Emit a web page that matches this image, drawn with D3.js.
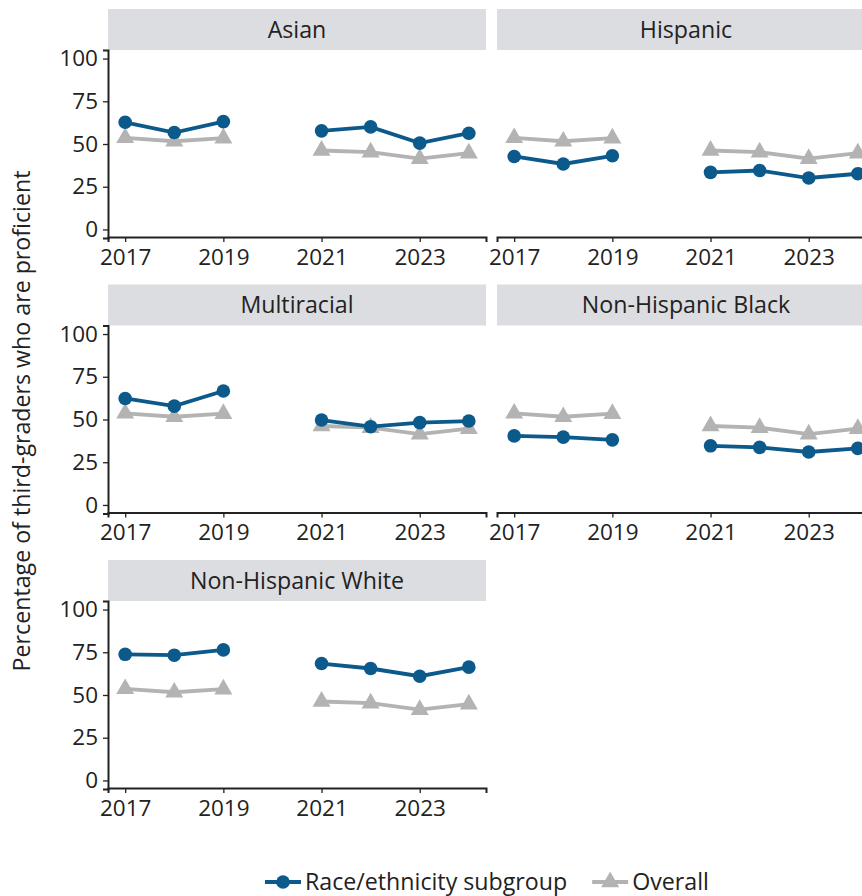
<!DOCTYPE html>
<html>
<head>
<meta charset="utf-8">
<script src="https://cdn.jsdelivr.net/npm/d3@7"></script>
<style>
  html, body { margin: 0; padding: 0; background: #fff; }
  svg { display: block; font-family: "Open Sans", "Noto Sans", sans-serif; }
</style>
</head>
<body>
<svg id="chart" width="862" height="896"></svg>
<script>
// School years (no test in 2020, so lines break there)
const years = [2017, 2018, 2019, 2020, 2021, 2022, 2023, 2024];

// Percentage of third-graders who are proficient
const overall       = [53.6, 51.6, 53.4, null, 46.2, 45.2, 41.4, 44.6];
const asian         = [62.7, 56.7, 63.1, null, 57.7, 60.0, 50.5, 56.3];
const hispanic      = [42.7, 38.3, 43.1, null, 33.4, 34.5, 30.1, 32.6];
const multiracial   = [62.3, 57.8, 66.7, null, 49.7, 45.8, 48.2, 49.1];
const nhBlack       = [40.4, 39.7, 38.1, null, 34.6, 33.7, 31.0, 33.1];
const nhWhite       = [73.8, 73.3, 76.4, null, 68.4, 65.5, 61.0, 66.3];

const groupNames  = ["Asian", "Hispanic", "Multiracial", "Non-Hispanic Black", "Non-Hispanic White"];
const groupValues = [asian, hispanic, multiracial, nhBlack, nhWhite];

const xTicks = [2017, 2019, 2021, 2023];
const yTicks = [0, 25, 50, 75, 100];

const legendLabels = ["Race/ethnicity subgroup", "Overall"];

const BLUE = "#0b5a8b";
const GREY = "#b3b3b3";
const INK = "#222222";
const STRIP = "#dcdde0";
const FONT = 23.2;
const TICK_FONT = 22.5;

const svg = d3.select("#chart");

// facet geometry
const colX = [108, 497];
const rowTop = [9, 284.5, 560];
const panelW = 378;
const stripH = 41;
const plotH = 188;

const x = d3.scaleLinear().domain([2016.65, 2024.35]).range([0, panelW]);
const y = d3.scaleLinear().domain([-5, 105]).range([plotH, 0]);

const line = d3.line()
  .defined(d => d.v != null)
  .x(d => x(d.year))
  .y(d => y(d.v));

const triangle = d3.symbol().type(d3.symbolTriangle).size(140);
const LW = 3.8;
const R = 6.8;

function pts(values) {
  return years.map((yr, i) => ({ year: yr, v: values[i] }));
}

function styleAxis(a) {
  a.attr("font-family", null).attr("font-size", TICK_FONT);
  a.select(".domain").attr("stroke", INK).attr("stroke-width", 2);
  a.selectAll(".tick line").attr("stroke", INK).attr("stroke-width", 1.3);
  a.selectAll(".tick text").attr("fill", INK);
}

groupNames.forEach((name, i) => {
  const col = i % 2, row = Math.floor(i / 2);
  const g = svg.append("g")
    .attr("transform", `translate(${colX[col]},${rowTop[row]})`);

  // strip
  g.append("rect")
    .attr("x", 0).attr("y", 0)
    .attr("width", panelW).attr("height", stripH)
    .attr("fill", STRIP);
  g.append("text")
    .attr("x", panelW / 2).attr("y", stripH / 2)
    .attr("dy", "0.36em")
    .attr("text-anchor", "middle")
    .attr("font-size", FONT)
    .attr("fill", INK)
    .text(name);

  const p = g.append("g").attr("transform", `translate(0,${stripH})`);

  // x axis
  const xa = p.append("g")
    .attr("transform", `translate(0,${plotH - 1})`)
    .call(d3.axisBottom(x).tickValues(xTicks).tickFormat(d3.format("d"))
      .tickSizeOuter(0).tickSize(5).tickPadding(7));
  styleAxis(xa);

  // y axis only on the left column
  if (col === 0) {
    const ya = p.append("g")
      .call(d3.axisLeft(y).tickValues(yTicks).tickSizeOuter(0).tickSize(5).tickPadding(5));
    styleAxis(ya);
  }

  // overall series
  const o = pts(overall);
  p.append("path").datum(o)
    .attr("d", line).attr("fill", "none")
    .attr("stroke", GREY).attr("stroke-width", LW);
  p.selectAll(".tri").data(o.filter(d => d.v != null)).enter()
    .append("path")
    .attr("transform", d => `translate(${x(d.year)},${y(d.v)})`)
    .attr("d", triangle).attr("fill", GREY);

  // subgroup series
  const s = pts(groupValues[i]);
  p.append("path").datum(s)
    .attr("d", line).attr("fill", "none")
    .attr("stroke", BLUE).attr("stroke-width", LW);
  p.selectAll(".dot").data(s.filter(d => d.v != null)).enter()
    .append("circle")
    .attr("cx", d => x(d.year)).attr("cy", d => y(d.v))
    .attr("r", R).attr("fill", BLUE);
});

// y axis title
svg.append("text")
  .attr("transform", "translate(30,421) rotate(-90)")
  .attr("text-anchor", "middle")
  .attr("font-size", FONT)
  .attr("fill", INK)
  .text("Percentage of third-graders who are proficient");

// legend
const lg = svg.append("g").attr("transform", "translate(265,882)");
let lx = 0;
legendLabels.forEach((lab, i) => {
  const item = lg.append("g").attr("transform", `translate(${lx},0)`);
  const color = i === 0 ? BLUE : GREY;
  item.append("line").attr("x1", 0).attr("x2", 36).attr("y1", 0).attr("y2", 0)
    .attr("stroke", color).attr("stroke-width", LW);
  if (i === 0) {
    item.append("circle").attr("cx", 18).attr("cy", 0).attr("r", R).attr("fill", color);
  } else {
    item.append("path").attr("transform", "translate(18,0)").attr("d", triangle).attr("fill", color);
  }
  const t = item.append("text").attr("x", 40).attr("dy", "0.36em")
    .attr("font-size", FONT).attr("fill", INK).text(lab);
  lx += 40 + t.node().getComputedTextLength() + 25;
});
</script>
</body>
</html>
